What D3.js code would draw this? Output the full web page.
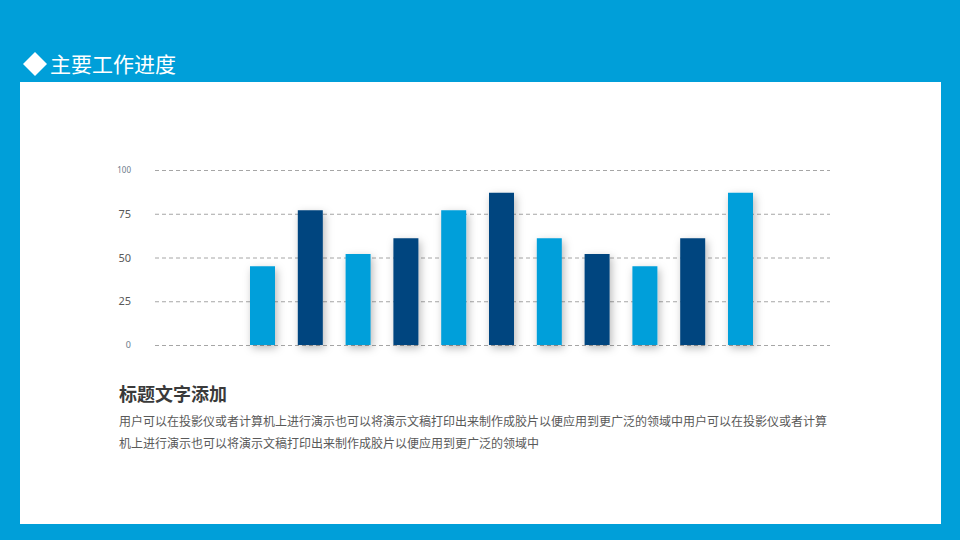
<!DOCTYPE html>
<html><head><meta charset="utf-8">
<script src="https://cdn.jsdelivr.net/npm/d3@7/dist/d3.min.js"></script>
<style>
html,body{margin:0;padding:0;background:#009fd9;}
svg{display:block;}
</style></head>
<body>
<svg id="c" width="960" height="540"></svg>
<script>
const categories = ["1","2","3","4","5","6","7","8","9","10","11"];
const values = [45, 77, 52, 61, 77, 87, 61, 52, 45, 61, 87];
const barColors = ["#009fda","#00457f","#009fda","#00457f","#009fda","#00457f","#009fda","#00457f","#009fda","#00457f","#009fda"];
const tickValues = [0, 25, 50, 75, 100];
const tickLabels = ["0", "25", "50", "75", "100"];
const pageTitle = "主要工作进度";
const subTitle = "标题文字添加";
const bodyLines = [
  "用户可以在投影仪或者计算机上进行演示也可以将演示文稿打印出来制作成胶片以便应用到更广泛的领域中用户可以在投影仪或者计算",
  "机上进行演示也可以将演示文稿打印出来制作成胶片以便应用到更广泛的领域中"
];

const svg = d3.select("#c");
const font = "'Microsoft YaHei','Noto Sans CJK SC',sans-serif";

// background
svg.append("rect").attr("x",0).attr("y",0).attr("width",960).attr("height",540).attr("fill","#009fd9");
svg.append("rect").attr("x",20).attr("y",82).attr("width",921).attr("height",442).attr("fill","#ffffff");

// header
svg.append("path").attr("d","M35,52 L47,64 L35,76 L23,64 Z").attr("fill","#ffffff");
svg.append("text").attr("x",50).attr("y",72).attr("fill","#ffffff")
  .attr("font-family",font).attr("font-size",21).text(pageTitle);

// shadow filter
const defs = svg.append("defs");
const f = defs.append("filter").attr("id","sh").attr("x","-60%").attr("y","-20%").attr("width","220%").attr("height","140%");
f.append("feDropShadow").attr("dx",2).attr("dy",3).attr("stdDeviation",4).attr("flood-color","#000").attr("flood-opacity",0.28);

// scales
const y = d3.scaleLinear().domain([0,100]).range([345,170]);
const x = d3.scaleBand().domain(categories).range([238.6,764.4]).paddingInner(0.477).paddingOuter(0.2385);

// gridlines
const axis = d3.axisLeft(y).tickValues(tickValues).tickSize(-675).tickFormat((d,i)=>tickLabels[i]);
const g = svg.append("g").attr("transform","translate(155,0)").call(axis);
g.select(".domain").remove();
g.selectAll(".tick line").attr("stroke","#a6a6a6").attr("stroke-dasharray","4,3").attr("stroke-width",1);
g.selectAll(".tick text").attr("x",-24)
  .attr("font-family","'Microsoft YaHei','Noto Sans',sans-serif")
  .attr("font-size",d=> d===100 ? 8 : (d===0 ? 9 : 11))
  .attr("fill", d=> (d===100||d===0) ? "#6b7a8a" : "#595959")
  .attr("text-anchor","end");

// bars
svg.append("g").selectAll("rect").data(values).join("rect")
  .attr("x",(d,i)=>x(categories[i]))
  .attr("width",x.bandwidth())
  .attr("y",d=>y(d))
  .attr("height",d=>y(0)-y(d))
  .attr("fill",(d,i)=>barColors[i])
  .attr("filter","url(#sh)");

// text block
svg.append("text").attr("x",119).attr("y",401).attr("fill","#3a3a3a")
  .attr("font-family",font).attr("font-size",18).attr("font-weight","bold").text(subTitle);
svg.append("g").selectAll("text").data(bodyLines).join("text")
  .attr("x",119).attr("y",(d,i)=>426+i*22).attr("fill","#595959")
  .attr("font-family",font).attr("font-size",12).text(d=>d);
</script>
</body></html>
